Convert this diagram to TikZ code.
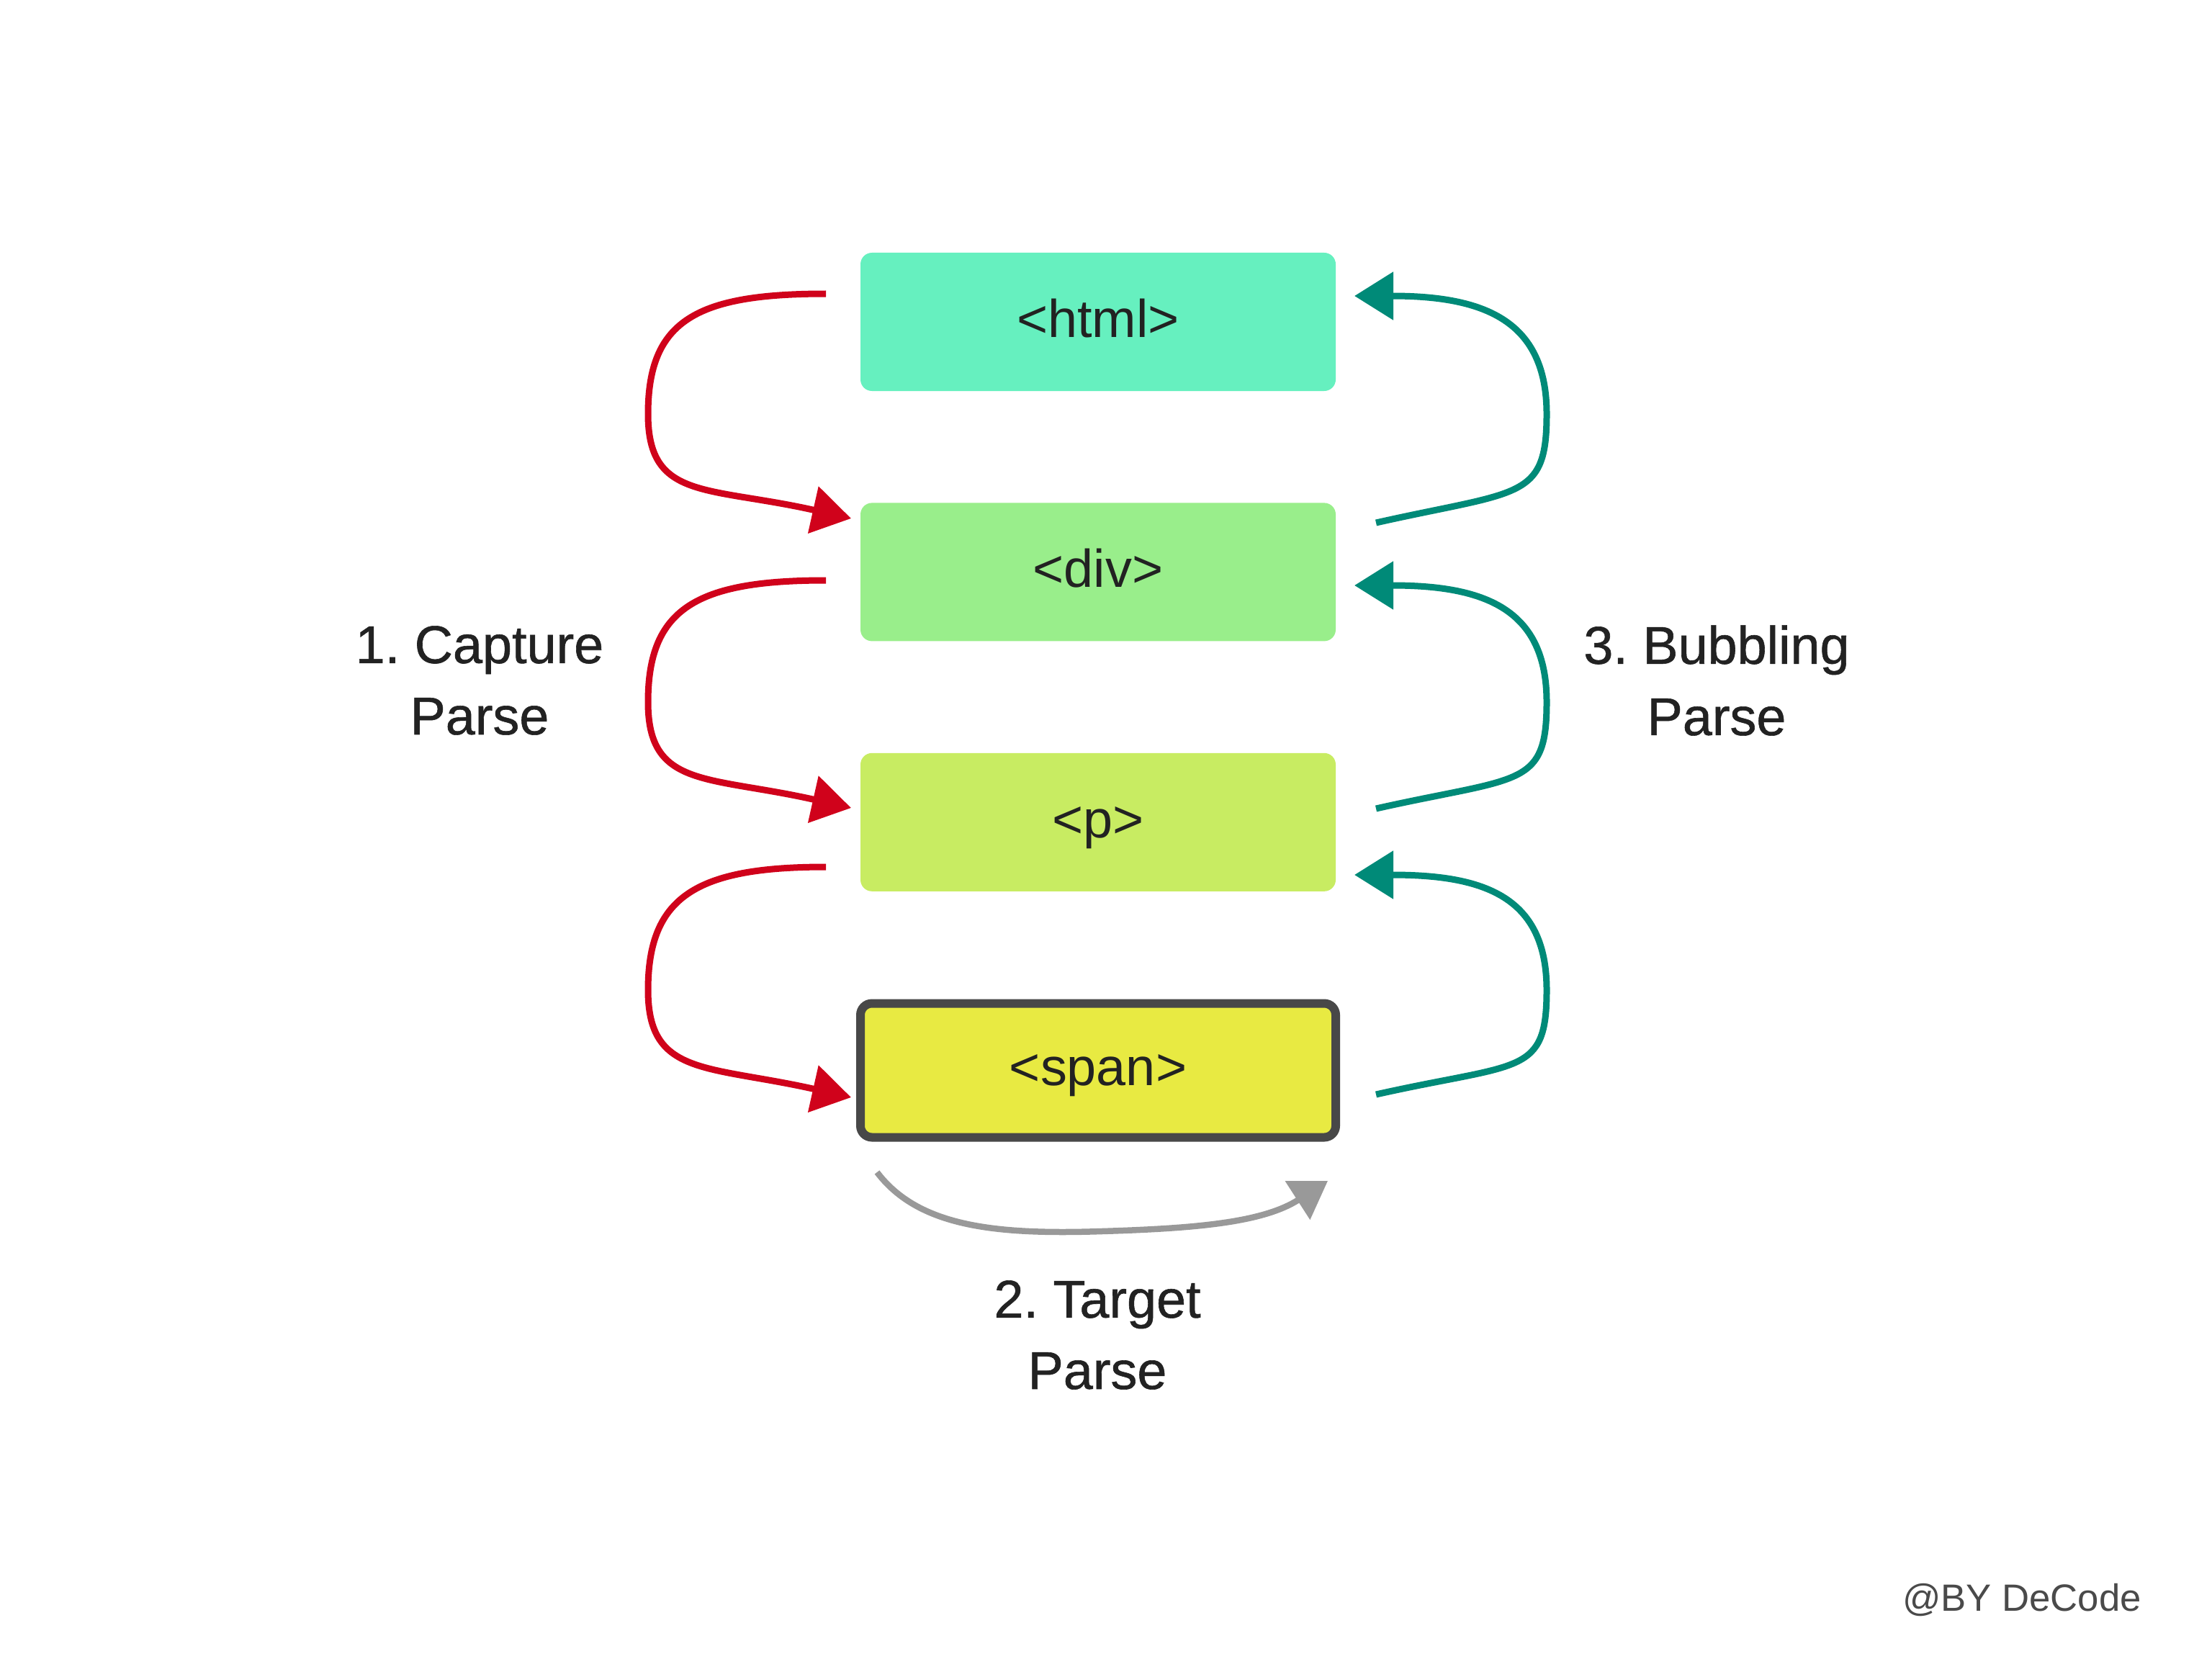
\documentclass[tikz,border=0pt]{standalone}
\usepackage{fontspec}
\setmainfont{Liberation Sans}
\newfontfamily\labelfont{Liberation Sans}[FakeBold=0.8]
\usepackage{xcolor}
\definecolor{htmlc}{RGB}{102,240,191}
\definecolor{divc}{RGB}{153,238,139}
\definecolor{pc}{RGB}{200,236,98}
\definecolor{spanc}{RGB}{232,234,66}
\definecolor{spanline}{RGB}{72,72,72}
\definecolor{capred}{RGB}{208,2,27}
\definecolor{bubteal}{RGB}{0,138,120}
\definecolor{ink}{RGB}{34,34,34}
\definecolor{mark}{RGB}{74,74,74}
\usetikzlibrary{arrows.meta,positioning,calc}
\tikzset{
  elem/.style={rounded corners=1.6mm,minimum width=6.6cm,minimum height=1.92cm,%
    font=\fontsize{21}{25}\selectfont,text=ink,inner sep=0pt,%
    text height=16.8pt,text depth=4.6pt},
  phase/.style={font=\labelfont\fontsize{21}{28.2}\selectfont\frenchspacing,%
    text=ink,align=center},
  capture/.style={-{Triangle[length=5.4mm,width=6.5mm]},line width=0.9mm,draw=capred},
  bubble/.style={-{Triangle[length=5.4mm,width=6.5mm]},line width=0.9mm,draw=bubteal},
  target/.style={-{Triangle[length=5mm,width=6.2mm]},line width=0.85mm,draw=gray!80},
}
\begin{document}
\begin{tikzpicture}[node distance=1.54cm]
\useasboundingbox (0,0) rectangle (30.72,-23.04);
\node[elem,fill=htmlc] (html) at (15.25,-4.47) {<html>};
\node[elem,fill=divc,below=of html] (div) {<div>};
\node[elem,fill=pc,below=of div] (p) {<p>};
\node[elem,fill=spanc,draw=spanline,line width=1.2mm,minimum height=1.86cm,below=1.49cm of p] (span) {<span>};
\node[phase] (caplbl) at (6.66,-9.45) {1. Capture\\Parse};
\node[phase] (bublbl) at (23.84,-9.45) {3. Bubbling\\Parse};
\node[phase] (tgtlbl) at (15.24,-18.54) {2. Target\\Parse};
\node[font=\fontsize{15}{18}\selectfont,text=mark] (credit) at (28.08,-22.22) {@BY DeCode};
% capture phase, going down
\foreach \k in {0,1,2}{
  \coordinate (cs\k) at (11.47,{-4.08-3.98*\k});
  \coordinate (cm\k) at (9.0,{-5.75-4.0*\k});
  \coordinate (ce\k) at (11.82,{-7.20-4.02*\k});
  \draw[capture] (cs\k) .. controls +(-1.8,0) and +(0,1.3) .. (cm\k)
    .. controls +(0,-1.2) and +(-2.0,0.45) .. (ce\k);
}
% bubbling phase, going up
\foreach \k in {0,1,2}{
  \coordinate (bs\k) at (19.11,{-7.26-3.97*\k});
  \coordinate (bm\k) at (21.48,{-5.75-4.0*\k});
  \coordinate (be\k) at (18.81,{-4.11-4.02*\k});
  \draw[bubble] (bs\k) .. controls +(2.0,0.45) and +(0,-1.2) .. (bm\k)
    .. controls +(0,1.3) and +(1.8,0) .. (be\k);
}
% target phase
\coordinate (ts) at (12.18,-16.28);
\coordinate (tm) at (15.3,-17.10);
\coordinate (te) at (18.44,-16.40);
\draw[target] (ts) .. controls +(0.57,-0.75) and +(-1.5,-0.05) .. (tm)
  .. controls +(1.3,0.04) and +(-0.9,-0.58) .. (te);
\end{tikzpicture}
\end{document}
